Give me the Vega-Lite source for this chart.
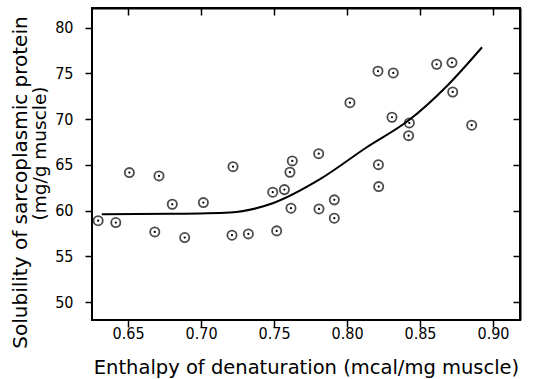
{
  "$schema": "https://vega.github.io/schema/vega-lite/v6.json",
  "autosize": {"type": "none"},
  "width": 428,
  "height": 312,
  "padding": {"left": 92, "top": 8, "right": 18, "bottom": 59},
  "background": "white",
  "config": {
    "view": {"stroke": "black", "strokeWidth": 2},
    "font": "DejaVu Sans",
    "axis": {"grid": false, "labelColor": "black", "titleColor": "black", "labelFont": "DejaVu Sans Condensed", "titleFont": "DejaVu Sans", "titleFontWeight": "normal", "labelFontSize": 16, "titleFontSize": 19.5}
  },
  "datasets": {
    "pts": [
      {"x": 0.6295, "y": 58.9}, {"x": 0.6416, "y": 58.7}, {"x": 0.6509, "y": 64.16}, {"x": 0.6712, "y": 63.8},
      {"x": 0.6683, "y": 57.68}, {"x": 0.6803, "y": 60.7}, {"x": 0.6888, "y": 57.06}, {"x": 0.7016, "y": 60.88},
      {"x": 0.7219, "y": 64.81}, {"x": 0.7212, "y": 57.32}, {"x": 0.7324, "y": 57.46}, {"x": 0.7518, "y": 57.79},
      {"x": 0.7491, "y": 62.02}, {"x": 0.7571, "y": 62.3}, {"x": 0.7616, "y": 60.27}, {"x": 0.7609, "y": 64.2},
      {"x": 0.7625, "y": 65.44}, {"x": 0.7808, "y": 60.19}, {"x": 0.7806, "y": 66.23}, {"x": 0.7913, "y": 61.18},
      {"x": 0.7913, "y": 59.18}, {"x": 0.8215, "y": 65.03}, {"x": 0.8217, "y": 62.63}, {"x": 0.802, "y": 71.8},
      {"x": 0.8212, "y": 75.24}, {"x": 0.8317, "y": 75.05}, {"x": 0.8308, "y": 70.21}, {"x": 0.8427, "y": 69.59},
      {"x": 0.8422, "y": 68.2}, {"x": 0.8614, "y": 76.0}, {"x": 0.8719, "y": 76.18}, {"x": 0.8724, "y": 72.97},
      {"x": 0.8854, "y": 69.34}
    ],
    "curve": [
      {"x": 0.632, "y": 59.6}, {"x": 0.68, "y": 59.65}, {"x": 0.7199, "y": 59.8}, {"x": 0.7491, "y": 60.81},
      {"x": 0.7815, "y": 63.44}, {"x": 0.8133, "y": 66.9}, {"x": 0.8425, "y": 69.9}, {"x": 0.8683, "y": 73.6},
      {"x": 0.8925, "y": 77.86}
    ]
  },
  "layer": [
    {
      "data": {"name": "curve"},
      "mark": {"type": "line", "color": "black", "strokeWidth": 2, "interpolate": "monotone"},
      "encoding": {
        "x": {"field": "x", "type": "quantitative", "scale": {"domain": [0.6253, 0.9185], "nice": false, "zero": false},
              "axis": {"values": [0.65, 0.7, 0.75, 0.8, 0.85, 0.9], "format": ".2f", "domain": false, "ticks": true, "tickColor": "black", "tickWidth": 1.5, "tickSize": 7, "labelPadding": -2, "title": "Enthalpy of denaturation (mcal/mg muscle)", "titlePadding": 17}},
        "y": {"field": "y", "type": "quantitative", "scale": {"domain": [48.05, 82.15], "nice": false, "zero": false},
              "axis": {"values": [50, 55, 60, 65, 70, 75, 80], "domain": false, "ticks": true, "tickColor": "black", "tickWidth": 1.5, "tickSize": 7, "labelPadding": 12, "title": "(mg/g muscle)", "titleFontSize": 18.5, "titleX": -43, "titleY": 145}}
      }
    },
    {
      "data": {"name": "curve"},
      "mark": {"type": "line", "opacity": 0},
      "encoding": {
        "x": {"field": "x", "type": "quantitative", "axis": {"orient": "top", "values": [0.65, 0.7, 0.75, 0.8, 0.85, 0.9], "domain": true, "domainColor": "black", "domainWidth": 2, "ticks": true, "tickColor": "black", "tickWidth": 1.5, "tickSize": -7, "labels": false, "title": null}},
        "y": {"field": "y", "type": "quantitative", "axis": {"orient": "right", "values": [50, 55, 60, 65, 70, 75, 80], "domain": true, "domainColor": "black", "domainWidth": 2, "ticks": true, "tickColor": "black", "tickWidth": 1.5, "tickSize": -7, "labels": false, "title": null}}
      }
    },
    {
      "data": {"name": "curve"},
      "mark": {"type": "line", "opacity": 0},
      "encoding": {
        "x": {"field": "x", "type": "quantitative", "axis": null},
        "y": {"field": "y", "type": "quantitative", "axis": {"orient": "left", "values": [60], "domain": false, "labels": false, "ticks": false, "title": "Solubility of sarcoplasmic protein", "titleFontSize": 20, "titleX": -62, "titleY": 174}}
      }
    },
    {
      "data": {"name": "pts"},
      "mark": {"type": "point", "shape": "circle", "filled": false, "size": 85, "stroke": "black", "strokeWidth": 1.8},
      "encoding": {
        "x": {"field": "x", "type": "quantitative", "axis": null},
        "y": {"field": "y", "type": "quantitative", "axis": null}
      }
    },
    {
      "data": {"name": "pts"},
      "mark": {"type": "point", "shape": "circle", "filled": true, "size": 5, "color": "black", "opacity": 1},
      "encoding": {
        "x": {"field": "x", "type": "quantitative", "axis": null},
        "y": {"field": "y", "type": "quantitative", "axis": null}
      }
    }
  ],
  "resolve": {"axis": {"x": "independent", "y": "independent"}}
}
